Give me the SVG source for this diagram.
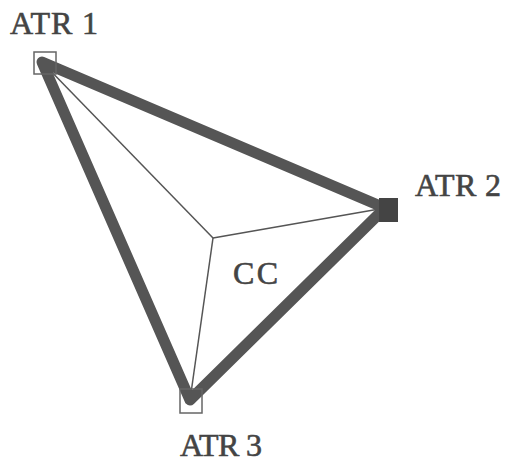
<svg xmlns="http://www.w3.org/2000/svg" width="508" height="466" viewBox="0 0 508 466">
<style>
.lbl{font-family:"Liberation Serif","Times New Roman",serif;font-size:32px;fill:#444;stroke:#444;stroke-width:0.6}
.thick{stroke:#555;stroke-width:11;stroke-linecap:round;stroke-linejoin:round;fill:none}
.thin{stroke:#555;stroke-width:1.5;fill:none}
.box{fill:none;stroke:#666;stroke-width:1.5}
</style>
<rect width="508" height="466" fill="#fff"/>
<g id="connectors">
<line class="thin" x1="42" y1="62" x2="213" y2="238"/>
<line class="thin" x1="385" y1="208" x2="213" y2="238"/>
<line class="thin" x1="190" y1="400" x2="213" y2="238"/>
<polygon class="thick" points="42,62 385,208 190,400"/>
</g>
<g id="atr1">
<rect class="box" x="34" y="52" width="22" height="22"/>
<text class="lbl" x="10" y="34" textLength="88">ATR 1</text>
</g>
<g id="atr2">
<rect x="379" y="198" width="19" height="24" fill="#444"/>
<text class="lbl" x="415" y="196" textLength="86">ATR 2</text>
</g>
<g id="atr3">
<rect class="box" x="180" y="389" width="22" height="24"/>
<text class="lbl" x="180" y="456" textLength="82">ATR 3</text>
</g>
<g id="cc">
<text class="lbl" x="233" y="284" textLength="45">CC</text>
</g>
</svg>
